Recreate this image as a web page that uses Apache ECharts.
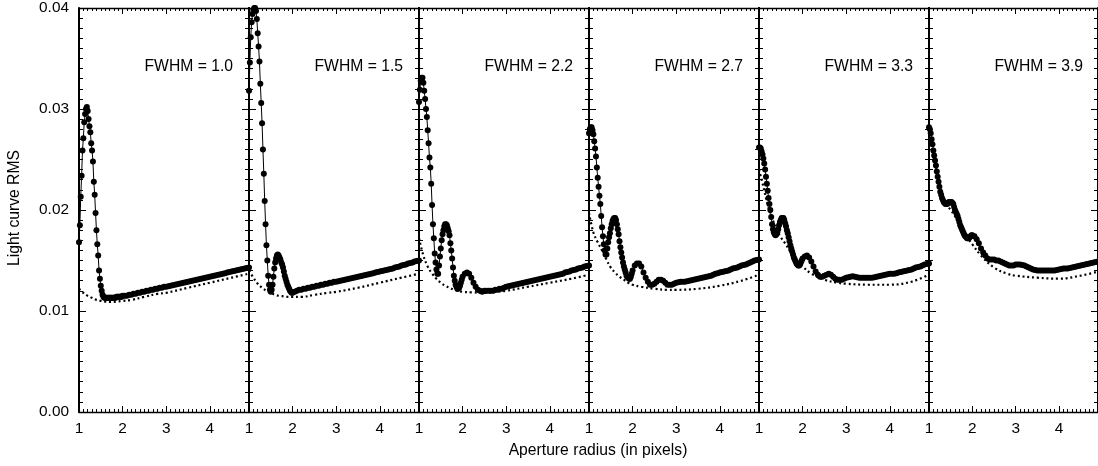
<!DOCTYPE html>
<html><head><meta charset="utf-8">
<script src="https://cdn.jsdelivr.net/npm/echarts@6/dist/echarts.min.js"></script>
<style>html,body{margin:0;padding:0;background:#fff}#c{width:1098px;height:466px}</style>
</head><body><div id="c"></div>
<script>
// ---------- DATA ----------
const fwhmLabels = ['FWHM = 1.0','FWHM = 1.5','FWHM = 2.2','FWHM = 2.7','FWHM = 3.3','FWHM = 3.9'];
const xTickLabels = [1, 2, 3, 4];
const yTickLabels = ['0.00','0.01','0.02','0.03','0.04'];
const xAxisTitle = 'Aperture radius (in pixels)';
const yAxisTitle = 'Light curve RMS';

// aperture radius sampling of the measured (dots) curves
const radius = [
 1.00,1.02,1.04,1.06,1.08,1.10,1.12,1.14,1.16,1.18,
 1.20,1.22,1.24,1.26,1.28,1.30,1.32,1.34,1.36,1.38,
 1.40,1.42,1.44,1.46,1.48,1.50,1.52,1.54,1.56,1.58,
 1.60,1.62,1.64,1.66,1.68,1.70,1.72,1.74,1.76,1.78,
 1.80,1.82,1.84,1.86,1.88,1.90,1.92,1.94,1.96,1.98,
 2.00,
 2.05,2.10,2.15,2.20,2.25,2.30,2.35,2.40,2.45,2.50,
 2.55,2.60,2.65,2.70,2.75,2.80,2.85,2.90,2.95,3.00,
 3.05,3.10,3.15,3.20,3.25,3.30,3.35,3.40,3.45,3.50,
 3.55,3.60,3.65,3.70,3.75,3.80,3.85,3.90,3.95,4.00,
 4.05,4.10,4.15,4.20,4.25,4.30,4.35,4.40,4.45,4.50,
 4.55,4.60,4.65,4.70,4.75,4.80,4.85,4.90];

const rmsFwhm10 = [
 0.0168,0.0185,0.0213,0.0234,0.0259,0.0271,0.0287,0.0295,0.0300,0.0302,
 0.0298,0.0290,0.0283,0.0277,0.0266,0.0259,0.0248,0.0228,0.0215,0.0197,
 0.0180,0.0166,0.0155,0.0140,0.0132,0.0125,0.0120,0.0116,0.0114,0.0113,
 0.0113,0.0113,0.0113,0.0113,0.0113,0.0113,0.0113,0.0113,0.0113,0.0113,
 0.0113,0.0113,0.0113,0.0114,0.0114,0.0114,0.0114,0.0114,0.0114,0.0114,
 0.0115,
 0.0115,0.0115,0.0116,0.0116,0.0117,0.0117,0.0118,0.0118,0.0119,0.0119,
 0.0120,0.0120,0.0121,0.0121,0.0122,0.0122,0.0123,0.0123,0.0124,0.0124,
 0.01245,0.0125,0.01255,0.0126,0.01265,0.0127,0.01275,0.0128,0.01285,0.0129,
 0.01295,0.0130,0.01305,0.0131,0.01315,0.0132,0.01325,0.0133,0.01335,0.0134,
 0.01345,0.0135,0.01355,0.0136,0.01365,0.0137,0.01375,0.0138,0.01385,0.0139,
 0.01395,0.0140,0.01405,0.0141,0.01415,0.0142,0.01425,0.0143];

const rmsFwhm15 = [
 0.0318,0.0346,0.0371,0.0386,0.0394,0.0398,0.0400,0.0400,0.0397,0.0389,
 0.0375,0.0362,0.0347,0.0325,0.0306,0.0286,0.0260,0.0236,0.0209,0.0186,
 0.0165,0.0150,0.0135,0.0126,0.0121,0.0119,0.0121,0.0126,0.0134,0.0142,
 0.0148,0.0152,0.0155,0.0156,0.0155,0.0153,0.0151,0.0148,0.0146,0.0143,
 0.0139,0.0135,0.0132,0.0129,0.0126,0.0124,0.0122,0.0120,0.0119,0.0118,
 0.0118,
 0.0119,0.0120,0.0121,0.0121,0.0122,0.0122,0.0123,0.0123,0.0124,0.0124,
 0.0125,0.0125,0.0126,0.0126,0.0127,0.0127,0.0128,0.0128,0.0129,0.0129,
 0.01295,0.0130,0.01305,0.0131,0.01315,0.0132,0.01325,0.0133,0.01335,0.0134,
 0.01345,0.0135,0.01355,0.0136,0.01365,0.0137,0.01375,0.0138,0.01385,0.0139,
 0.01395,0.0140,0.01405,0.0141,0.01415,0.0142,0.0143,0.01435,0.0144,0.0145,
 0.01455,0.0146,0.0147,0.01475,0.0148,0.0149,0.01495,0.0150];

const rmsFwhm22 = [
 0.0307,0.0319,0.0328,0.0331,0.0331,0.0326,0.0318,0.0310,0.0300,0.0292,
 0.0279,0.0266,0.0252,0.0242,0.0226,0.0205,0.0186,0.0172,0.0157,0.0148,
 0.0141,0.0137,0.0137,0.0145,0.0154,0.0162,0.0170,0.0176,0.0180,0.0184,
 0.0186,0.0186,0.0185,0.0182,0.0179,0.0175,0.0167,0.0160,0.0152,0.0143,
 0.0135,0.0130,0.0126,0.0124,0.0122,0.0122,0.0123,0.0125,0.0128,0.0131,
 0.0134,
 0.0137,0.0138,0.0137,0.0133,0.0128,0.0124,0.0121,0.0120,0.0119,0.0120,
 0.0120,0.0120,0.0120,0.0120,0.0121,0.0121,0.0122,0.0122,0.0123,0.0124,
 0.01245,0.0125,0.01255,0.0126,0.01265,0.0127,0.01275,0.0128,0.01285,0.0129,
 0.01295,0.0130,0.01305,0.0131,0.01315,0.0132,0.01325,0.0133,0.01335,0.0134,
 0.01345,0.0135,0.01355,0.0136,0.01365,0.0137,0.0138,0.01385,0.0139,0.0140,
 0.01405,0.0141,0.0142,0.01425,0.0143,0.0144,0.01445,0.0145];

const rmsFwhm27 = [
 0.0276,0.0280,0.0282,0.0282,0.0279,0.0275,0.0268,0.0261,0.0253,0.0242,
 0.0232,0.0223,0.0214,0.0206,0.0194,0.0183,0.0174,0.0166,0.0160,0.0156,
 0.0156,0.0162,0.0168,0.0173,0.0177,0.0182,0.0186,0.0189,0.0191,0.0192,
 0.0192,0.0190,0.0186,0.0181,0.0176,0.0169,0.0163,0.0158,0.0153,0.0148,
 0.0144,0.0141,0.0138,0.0135,0.0134,0.0133,0.0132,0.0132,0.0134,0.0137,
 0.0140,
 0.0145,0.0147,0.0147,0.0144,0.0138,0.0133,0.0129,0.0126,0.0126,0.0127,
 0.0129,0.0131,0.0131,0.0130,0.0128,0.0126,0.0126,0.0126,0.0127,0.0128,
 0.01285,0.0129,0.0129,0.0129,0.01295,0.0130,0.01305,0.0131,0.01315,0.0132,
 0.01325,0.0133,0.01335,0.0134,0.01345,0.0135,0.0136,0.0137,0.01375,0.0138,
 0.01385,0.0139,0.01395,0.0140,0.0141,0.0142,0.01425,0.0143,0.0144,0.0145,
 0.01455,0.0146,0.0147,0.0148,0.0149,0.0150,0.01505,0.0151];

const rmsFwhm33 = [
 0.0262,0.0262,0.0261,0.0258,0.0255,0.0251,0.0246,0.0240,0.0233,0.0226,
 0.0219,0.0212,0.0206,0.0200,0.0193,0.0186,0.0181,0.0178,0.0176,0.0175,
 0.0176,0.0178,0.0181,0.0185,0.0188,0.0190,0.0192,0.0192,0.0192,0.0190,
 0.0187,0.0184,0.0180,0.0177,0.0173,0.0169,0.0165,0.0162,0.0159,0.0156,
 0.0153,0.0151,0.0149,0.0147,0.0146,0.0145,0.0145,0.0146,0.0148,0.0150,
 0.0152,
 0.0154,0.0155,0.0153,0.0149,0.0144,0.0139,0.0136,0.0134,0.0134,0.0135,
 0.0136,0.0137,0.0136,0.0134,0.0132,0.0131,0.0131,0.0131,0.0132,0.0133,
 0.01335,0.0134,0.01345,0.0134,0.01335,0.0133,0.0133,0.0133,0.0133,0.0133,
 0.0133,0.0133,0.01335,0.0134,0.01345,0.0135,0.01355,0.0136,0.01365,0.0137,
 0.0137,0.0137,0.01375,0.0138,0.01385,0.0139,0.01395,0.0140,0.01405,0.0141,
 0.0142,0.0143,0.01435,0.0144,0.0145,0.0146,0.01465,0.0147];

const rmsFwhm39 = [
 0.0282,0.0280,0.0276,0.0270,0.0265,0.0259,0.0254,0.0249,0.0244,0.0238,
 0.0233,0.0228,0.0223,0.0218,0.0215,0.0212,0.0210,0.0208,0.0207,0.0206,
 0.0206,0.0206,0.0207,0.0208,0.0208,0.0208,0.0208,0.0207,0.0206,0.0203,
 0.0200,0.0198,0.0196,0.0194,0.0191,0.0188,0.0185,0.0183,0.0181,0.0179,
 0.0177,0.0175,0.0174,0.0173,0.0172,0.0172,0.0172,0.0173,0.0174,0.0175,
 0.0175,
 0.0174,0.0171,0.0167,0.0162,0.0158,0.0155,0.0152,0.0151,0.0151,0.0151,
 0.0150,0.0150,0.0149,0.0148,0.0147,0.0146,0.0145,0.0145,0.0145,0.0146,
 0.0146,0.0146,0.01455,0.0145,0.0144,0.0143,0.0142,0.0141,0.01405,0.0140,
 0.0140,0.0140,0.0140,0.0140,0.0140,0.0140,0.0140,0.0140,0.01405,0.0141,
 0.01415,0.0142,0.0142,0.0142,0.01425,0.0143,0.01435,0.0144,0.01445,0.0145,
 0.01455,0.0146,0.01465,0.0147,0.01475,0.0148,0.01485,0.0149];

// aperture radius sampling of the dotted (expected) curves
const refRadius = [1.0,1.1,1.2,1.3,1.4,1.5,1.6,1.7,1.8,1.9,2.0,2.2,2.5,2.8,3.0,3.5,4.0,4.5,4.9];
const refFwhm10 = [0.0122,0.0118,0.0115,0.0113,0.0111,0.0110,0.01093,0.0109,0.0109,0.01095,0.0110,0.0111,0.0114,0.0117,0.0118,0.0123,0.0128,0.0133,0.0137];
const refFwhm15 = [0.0140,0.0133,0.0127,0.0123,0.0120,0.0118,0.0116,0.0115,0.01145,0.0114,0.0114,0.0114,0.0116,0.0118,0.0119,0.0123,0.0128,0.0133,0.0137];
const refFwhm22 = [0.0172,0.0155,0.0144,0.0137,0.0132,0.0128,0.0125,0.0123,0.0121,0.0120,0.0119,0.01185,0.0118,0.0119,0.0120,0.0124,0.0128,0.0132,0.0136];
const refFwhm27 = [0.0197,0.0178,0.0168,0.0160,0.0151,0.0143,0.0138,0.0134,0.0131,0.0128,0.0126,0.0124,0.0122,0.0121,0.0121,0.0122,0.0125,0.0130,0.0136];
const refFwhm33 = [0.0240,0.0223,0.0205,0.0192,0.0181,0.0173,0.0167,0.0160,0.0153,0.0148,0.0144,0.0137,0.0131,0.0128,0.0127,0.0126,0.0126,0.0129,0.0136];
const refFwhm39 = [0.0280,0.0257,0.0234,0.0216,0.0206,0.0200,0.0194,0.0187,0.0178,0.0172,0.0166,0.0155,0.0143,0.0137,0.0135,0.0133,0.0132,0.0135,0.0139];

// ---------- CHART ----------
const measured = [rmsFwhm10, rmsFwhm15, rmsFwhm22, rmsFwhm27, rmsFwhm33, rmsFwhm39];
const expected = [refFwhm10, refFwhm15, refFwhm22, refFwhm27, refFwhm33, refFwhm39];
const FONT = '"Liberation Sans", Arial, Helvetica, sans-serif';
const INK = '#000';
const GL = 79, GW = 170, GT = 8, GH = 404;

const grids = [], xAxes = [], yAxes = [], series = [], graphics = [];
measured.forEach((rms, i) => {
  grids.push({left: GL + GW * i, top: GT, width: GW, height: GH});
  const xBase = {
    type: 'value', gridIndex: i, min: 1, max: 4.9, interval: 1,
    axisLine: {show: true, onZero: false, lineStyle: {color: INK, width: 1.3}},
    axisTick: {show: true, inside: true, length: 6, lineStyle: {color: INK, width: 1}},
    minorTick: {show: true, splitNumber: 10, length: 3, lineStyle: {color: INK, width: 1}},
    splitLine: {show: false}
  };
  xAxes.push(Object.assign({}, xBase, {
    position: 'bottom',
    axisLabel: {show: true, showMaxLabel: false, margin: 9, fontSize: 15.4, fontFamily: FONT, color: INK,
      formatter: v => xTickLabels.includes(v) ? String(v) : ''}
  }));
  xAxes.push(Object.assign({}, xBase, {position: 'top', axisLabel: {show: false}}));
  const yBase = {
    type: 'value', gridIndex: i, min: 0, max: 0.04, interval: 0.01,
    axisLine: {show: true, onZero: false, lineStyle: {color: INK, width: 2}},
    axisTick: {show: true, inside: true, length: 7, lineStyle: {color: INK, width: 1}},
    minorTick: {show: true, splitNumber: 10, length: 4, lineStyle: {color: INK, width: 1}},
    splitLine: {show: false}
  };
  yAxes.push(Object.assign({}, yBase, {
    position: 'left',
    axisLabel: {show: i === 0, margin: 10, fontSize: 15.4, fontFamily: FONT, color: INK,
      formatter: v => yTickLabels[Math.round(v / 0.01)] || ''}
  }));
  yAxes.push(Object.assign({}, yBase, {position: 'right', axisLabel: {show: false}}));

  series.push({
    type: 'line', xAxisIndex: 2 * i, yAxisIndex: 2 * i,
    data: refRadius.map((r, k) => [r, expected[i][k]]),
    smooth: 0.4, symbol: 'none', z: 2,
    lineStyle: {color: INK, width: 2.2, type: [2, 2.8]}
  });
  series.push({
    type: 'line', xAxisIndex: 2 * i, yAxisIndex: 2 * i,
    data: radius.map((r, k) => [r, rms[k]]),
    symbol: 'circle', symbolSize: 6, showAllSymbol: true, z: 3,
    itemStyle: {color: INK, borderWidth: 0},
    lineStyle: {color: INK, width: 1}
  });
  graphics.push({
    type: 'text', x: GL + GW * i + 154, y: 67,
    style: {text: fwhmLabels[i], fill: INK, font: '15.7px ' + FONT, align: 'right', verticalAlign: 'middle'}
  });
});
graphics.push({type: 'text', x: 598, y: 451,
  style: {text: xAxisTitle, fill: INK, font: '15.7px ' + FONT, align: 'center', verticalAlign: 'middle'}});
graphics.push({type: 'text', x: 15, y: 208, rotation: Math.PI / 2,
  style: {text: yAxisTitle, fill: INK, font: '15.7px ' + FONT, align: 'center', verticalAlign: 'middle'}});

const chart = echarts.init(document.getElementById('c'), null, {renderer: 'canvas'});
chart.setOption({
  animation: false,
  backgroundColor: '#fff',
  grid: grids, xAxis: xAxes, yAxis: yAxes, series: series,
  graphic: graphics
});
</script></body></html>
